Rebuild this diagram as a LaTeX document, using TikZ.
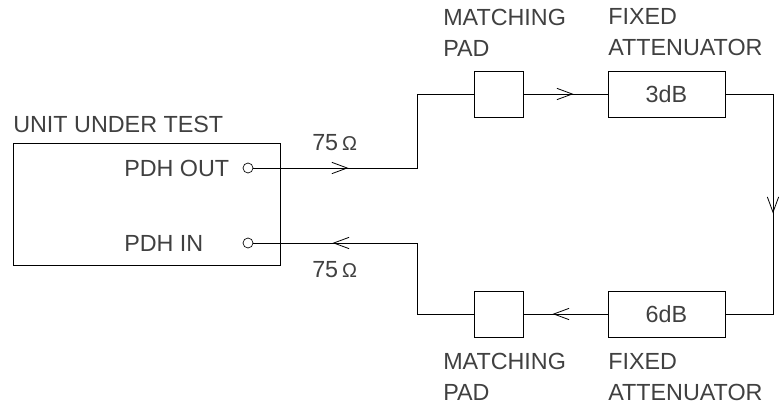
\documentclass[tikz,border=0pt]{standalone}
\usepackage{fontspec}
\setmainfont{Liberation Sans}
\usetikzlibrary{positioning, arrows.meta, decorations.markings}
\newcommand\lblfont{\fontsize{17.5}{23.25}\selectfont}
\newcommand\ohmfont{\fontsize{15}{15}\selectfont}
\tikzset{
  unit/.style={draw, line width=0.6pt, minimum width=200.25pt, minimum height=91.5pt},
  blk/.style={draw, line width=0.6pt, minimum height=34.5pt, inner sep=0pt, font=\lblfont, text=black!75},
  padbox/.style={blk, minimum width=36.75pt},
  attbox/.style={blk, minimum width=87.75pt},
  port/.style={circle, draw, line width=0.5pt, inner sep=0pt, minimum size=7.5pt},
  lbl/.style={inner sep=0pt, font=\lblfont, text=black!75, align=left},
  wire/.style={line width=0.6pt},
  chev/.tip={Straight Barb[length=11.5pt, width=8.5pt]},
  flowat/.style={postaction={decorate}, decoration={markings, mark=at position #1 with {\arrow{chev}}}},
}

\begin{document}
\begin{tikzpicture}[x=0.75pt, y=-0.75pt]
  \useasboundingbox (0,0) rectangle (783,407);
  % unit under test
  \node[unit] (uut) at (146.5,204) {};
  \node[lbl, anchor=west] (uutlbl) at (13,124) {UNIT UNDER TEST};
  \node[port] (outport) at (248,168) {};
  \node[port] (inport) at (248,243) {};
  \node[lbl, anchor=west] (outlbl) at (124,168) {PDH OUT};
  \node[lbl, anchor=west] (inlbl) at (124,243) {PDH IN};
  \node[lbl, anchor=west] (ohmtop) at (312,143) {75\,{\ohmfont Ω}};
  \node[lbl, anchor=west] (ohmbot) at (312,270) {75\,{\ohmfont Ω}};
  % forward path
  \node[padbox] (padA) at (498.5,94) {};
  \node[attbox] (attA) at (666.5,94) {3dB};
  \node[lbl, anchor=west] (padAlbl) at (443,32.5) {MATCHING\\PAD};
  \node[lbl, anchor=west] (attAlbl) at (608,32.5) {FIXED\\ATTENUATOR};
  % return path
  \node[padbox] (padB) at (498.5,314) {};
  \node[attbox] (attB) at (666.5,314) {6dB};
  \node[lbl, anchor=west] (padBlbl) at (443,377) {MATCHING\\PAD};
  \node[lbl, anchor=west] (attBlbl) at (608,377) {FIXED\\ATTENUATOR};
  \coordinate (bendL) at (417,168);
  \coordinate (bendR) at (773,94);
  \coordinate (bendB) at (417,314);
  \draw[wire, flowat=71.25pt] (outport.east) -- (bendL) |- (padA.west);
  \draw[wire, flowat=37.5pt] (padA.east) -- (attA.west);
  \draw[wire, flowat=125.25pt] (attA.east) -- (bendR) |- (attB.east);
  \draw[wire, flowat=41.25pt] (attB.west) -- (padB.east);
  \draw[wire, flowat=159pt] (padB.west) -- (bendB) |- (inport.east);
\end{tikzpicture}
\end{document}
